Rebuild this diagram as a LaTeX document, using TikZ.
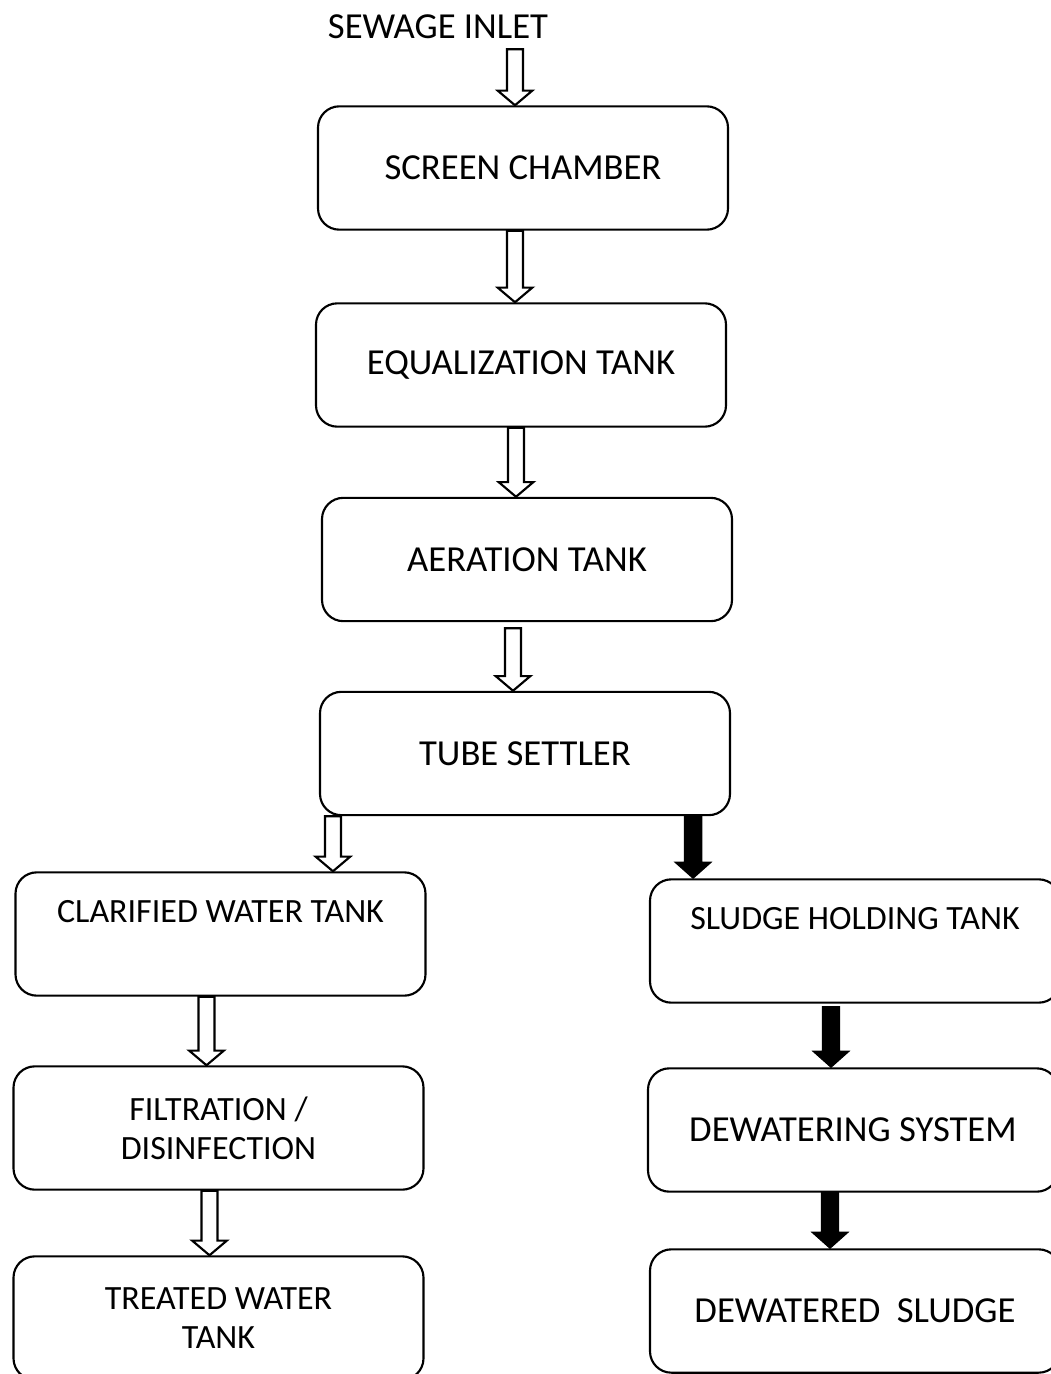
\documentclass[tikz,border=0pt]{standalone}
\usepackage{fontspec}
\setmainfont{Carlito}
\usetikzlibrary{calc}

\begin{document}
\begin{tikzpicture}[x=0.75pt, y=-0.75pt,
	box/.style={draw, line width=1.6pt, rounded corners=16pt, minimum width=307.5pt, minimum height=92.5pt, align=center, font=\fontsize{27.5}{29}\selectfont},
	narrow/.style={font=\fontsize{25.5}{29}\selectfont},
	uptext/.style={text depth=34pt},
	openarrow/.style={draw, fill=white, line width=1.6pt, line join=miter, to path={let \p1=(\tikztostart), \p2=(\tikztotarget) in (\x1-6pt,\y1) -- (\x1-6pt,\y2+11pt) -- (\x1-13pt,\y2+11pt) -- (\x1,\y2) -- (\x1+13pt,\y2+11pt) -- (\x1+6pt,\y2+11pt) -- (\x1+6pt,\y1) -- cycle}},
	fullarrow/.style={fill=black, draw, line width=0.8pt, line join=miter, to path={let \p1=(\tikztostart), \p2=(\tikztotarget) in (\x1-6.5pt,\y1) -- (\x1-6.5pt,\y2+12pt) -- (\x1-13.5pt,\y2+12pt) -- (\x1,\y2) -- (\x1+13.5pt,\y2+12pt) -- (\x1+6.5pt,\y2+12pt) -- (\x1+6.5pt,\y1) -- cycle}}]
	\useasboundingbox (0,0) rectangle (1050,1374);
	% main line
	\node [inner sep=0pt, font=\fontsize{27.5}{29}\selectfont] (inlet) at (438,27) {SEWAGE INLET};
	\node [box] (screen) at (523,168) {SCREEN CHAMBER};
	\node [box] (equal) at (521,365) {EQUALIZATION TANK};
	\node [box] (aeration) at (527,559.5) {AERATION TANK};
	\node [box] (settler) at (525,753.5) {TUBE SETTLER};
	% water side
	\node [box, narrow, uptext] (clarified) at (220.5,934) {CLARIFIED WATER TANK};
	\node [box, narrow] (filter) at (218.5,1128) {FILTRATION /\\ DISINFECTION};
	\node [box, narrow] (treated) at (218.5,1318) {TREATED WATER\\ TANK};
	% sludge side
	\node [box, narrow, uptext] (holding) at (855,941) {SLUDGE HOLDING TANK};
	\node [box] (dewater) at (853,1130) {DEWATERING SYSTEM};
	\node [box] (dried) at (855,1311) {DEWATERED \ SLUDGE};

	\draw [openarrow] ([shift={(77,10)}]inlet.south) to (screen.north);
	\draw [openarrow] ([shift={(-8,0)}]screen.south) to (equal.north);
	\draw [openarrow] ([shift={(-5,0)}]equal.south) to (aeration.north);
	\draw [openarrow] ([shift={(-14,6)}]aeration.south) to (settler.north);
	\draw [openarrow] ([shift={(14,0)}]settler.south west) to (clarified.north);
	\draw [openarrow] ([shift={(-14,0)}]clarified.south) to (filter.north);
	\draw [openarrow] ([shift={(-9,0)}]filter.south) to (treated.north);
	\draw [fullarrow] ([shift={(-38,0)}]settler.south east) to (holding.north);
	\draw [fullarrow] ([shift={(-24,3)}]holding.south) to (dewater.north);
	\draw [fullarrow] ([shift={(-23,0)}]dewater.south) to (dried.north);
\end{tikzpicture}
\end{document}
